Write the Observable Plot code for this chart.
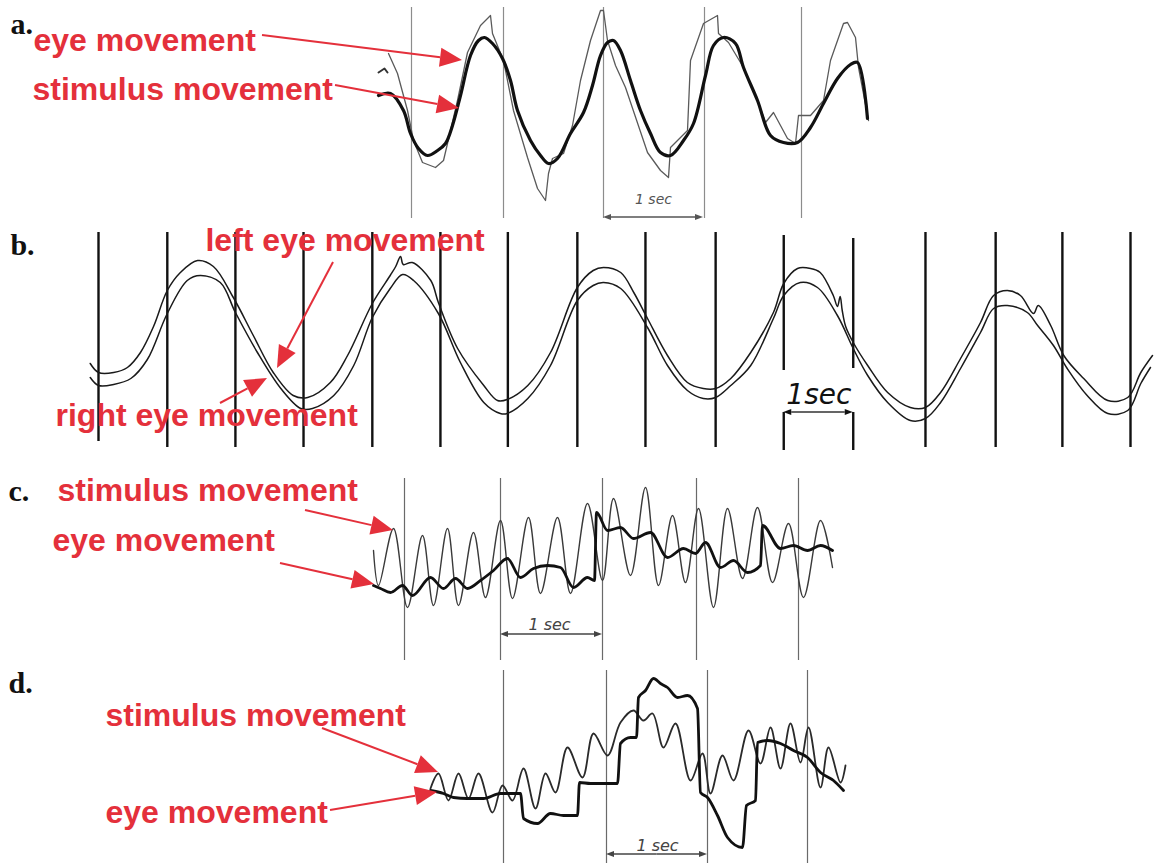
<!DOCTYPE html>
<html><head><meta charset="utf-8">
<script src="https://cdn.jsdelivr.net/npm/d3@7"></script>
<script src="https://cdn.jsdelivr.net/npm/@observablehq/plot@0.6"></script>
<style>
html,body{margin:0;padding:0;background:#fff;}
#chart{position:relative;width:1158px;height:867px;overflow:hidden;background:#fff;}
#chart svg{position:absolute;left:0;}
</style></head><body><div id="chart"></div>
<script>
// ---------- DATA (time in s from first marker, deflection in arbitrary units, up = positive) ----------
// Panel a
const aMarkers = [0.01, 0.93, 1.93, 2.94, 3.91];
const aThick = [[-0.32,20],[-0.20,22],[-0.07,5],[0.00,-18],[0.08,-33],[0.17,-40],[0.27,-35],[0.35,-28],[0.42,-10],[0.50,20],[0.60,60],[0.68,75],[0.74,78],[0.82,72],[0.92,57],[1.00,35],[1.07,5],[1.20,-25],[1.30,-40],[1.38,-48],[1.47,-43],[1.60,-18],[1.73,3],[1.82,30],[1.90,60],[1.97,73],[2.03,75],[2.10,65],[2.20,35],[2.30,5],[2.40,-18],[2.50,-37],[2.60,-40],[2.73,-25],[2.83,-8],[2.95,40],[3.03,70],[3.13,78],[3.25,72],[3.33,48],[3.47,15],[3.60,-20],[3.73,-27],[3.87,-27],[4.00,-12],[4.13,12],[4.27,37],[4.40,51],[4.47,53],[4.57,-3]];
const aThin = [[-0.22,62],[-0.13,42],[-0.03,5],[0.03,-25],[0.12,-47],[0.25,-52],[0.33,-45],[0.37,-28],[0.47,15],[0.57,63],[0.70,90],[0.80,100],[0.82,82],[0.93,55],[1.03,5],[1.17,-42],[1.27,-73],[1.35,-85],[1.38,-58],[1.42,-43],[1.53,-38],[1.62,-10],[1.70,35],[1.80,75],[1.90,105],[1.93,105],[1.97,75],[2.05,50],[2.15,28],[2.37,-37],[2.50,-55],[2.58,-62],[2.60,-32],[2.77,-15],[2.80,55],[2.93,92],[3.07,100],[3.08,82],[3.18,73],[3.33,48],[3.47,15],[3.55,-7],[3.63,3],[3.77,-23],[3.85,-28],[3.88,0],[4.00,0],[4.13,15],[4.20,55],[4.33,92],[4.37,93],[4.45,78],[4.48,48],[4.58,-5]];
const aTick = [[-0.32,43],[-0.26,47],[-0.23,43]];
const aLabels = [{t:-3.77,a:65,text:"eye movement"},{t:-3.78,a:16,text:"stimulus movement"}];
const aArrows = [{t1:-1.48,a1:80,t2:0.52,a2:55},{t1:-0.75,a1:30,t2:0.49,a2:7}];
const aScale = {t1:1.93, t2:2.93, a:-102, label:"1 sec", tl:2.43, al:-88};

// Panel b
const bMarkers = [[0,103,-106],[1.0,103,-112],[1.99,103,-112],[2.98,103,-112],[3.98,103,-112],[4.97,103,-112],[5.95,103,-112],[6.96,103,-112],[7.95,103,-112],[8.97,103,-112],[9.96,100,-35],[10.97,97,-33],[12.02,103,-112],[13.04,103,-112],[14.01,103,-112],[15.0,103,-112]];
const bUpper = [[-0.12,-28],[0.00,-37],[0.22,-37],[0.42,-32],[0.61,-17],[0.80,9],[1.00,45],[1.19,63],[1.44,75],[1.67,69],[1.96,38],[2.25,0],[2.54,-37],[2.83,-60],[3.04,-62],[3.37,-47],[3.62,-20],[3.98,32],[4.24,60],[4.32,69],[4.39,79],[4.43,71],[4.56,73],[4.83,55],[4.94,33],[5.22,-13],[5.60,-50],[5.80,-65],[5.94,-64],[6.24,-50],[6.57,-17],[6.96,48],[7.19,65],[7.34,68],[7.59,63],[7.78,43],[7.98,17],[8.27,-20],[8.56,-47],[8.79,-53],[8.97,-53],[9.19,-43],[9.48,-17],[9.81,23],[9.96,52],[10.16,67],[10.35,67],[10.49,63],[10.68,40],[10.74,29],[10.78,39],[10.81,25],[10.86,9],[10.97,-7],[11.18,-30],[11.47,-57],[11.80,-72],[12.02,-72],[12.24,-57],[12.53,-23],[12.82,13],[13.01,40],[13.21,45],[13.40,40],[13.59,22],[13.66,30],[13.84,10],[14.03,-20],[14.32,-43],[14.67,-65],[14.96,-62],[15.15,-37],[15.32,-20]];
const bLower = [[-0.12,-42],[0.00,-50],[0.22,-49],[0.47,-43],[0.71,-24],[1.00,22],[1.29,55],[1.48,60],[1.77,53],[1.99,23],[2.31,-17],[2.65,-53],[2.94,-73],[3.11,-73],[3.42,-60],[3.71,-30],[3.98,18],[4.24,47],[4.42,61],[4.58,55],[4.94,22],[5.26,-27],[5.60,-67],[5.84,-78],[5.94,-78],[6.24,-63],[6.57,-30],[6.96,35],[7.19,50],[7.34,53],[7.59,47],[7.98,8],[8.27,-30],[8.56,-55],[8.79,-63],[8.97,-62],[9.19,-50],[9.48,-30],[9.81,17],[9.96,40],[10.20,53],[10.45,48],[10.74,20],[10.97,-13],[11.18,-40],[11.47,-67],[11.80,-85],[12.02,-83],[12.24,-67],[12.53,-33],[12.82,3],[13.01,27],[13.21,30],[13.50,23],[13.65,10],[13.88,-10],[14.08,-33],[14.37,-60],[14.67,-78],[14.96,-75],[15.15,-48],[15.29,-32]];
const bLabels = [{t:1.555,a:85,text:"left eye movement"},{t:-0.625,a:-90,text:"right eye movement"}];
const bArrows = [{t1:3.416,a1:73,t2:2.602,a2:-33},{t1:1.773,a1:-68,t2:2.456,a2:-43}];
const bScale = {t1:9.96, t2:10.97, a:-77, low:-115, label:"1sec", tl:10.47, al:-68};

// Panel c
const cMarkers = [0, 0.96, 1.98, 2.92, 3.94];
const cStim = [[-0.31,10],[-0.26,-25],[-0.11,32],[0.03,-47],[0.18,25],[0.29,-45],[0.43,32],[0.54,-45],[0.69,28],[0.81,-37],[0.96,40],[1.08,-38],[1.24,43],[1.36,-33],[1.53,43],[1.66,-33],[1.83,57],[1.98,-20],[2.09,62],[2.26,-15],[2.41,73],[2.54,-25],[2.68,45],[2.81,-22],[2.94,52],[3.09,-47],[3.23,52],[3.38,-18],[3.53,53],[3.68,-22],[3.84,37],[3.99,-37],[4.16,40],[4.28,-7]];
const cEye = [[-0.31,-25],[-0.24,-28],[-0.14,-32],[-0.02,-25],[0.08,-35],[0.26,-17],[0.39,-28],[0.51,-18],[0.63,-28],[0.76,-20],[0.89,-10],[1.03,2],[1.16,-17],[1.29,-8],[1.43,-5],[1.56,-7],[1.69,-27],[1.83,-17],[1.90,-20],[1.92,48],[2.03,30],[2.16,33],[2.29,22],[2.46,28],[2.63,3],[2.79,12],[2.91,7],[3.01,18],[3.16,-7],[3.29,0],[3.43,-12],[3.56,-5],[3.58,35],[3.76,12],[3.89,15],[4.03,10],[4.16,15],[4.28,10]];
const cLabels = [{t:-3.47,a:60,text:"stimulus movement"},{t:-3.52,a:10,text:"eye movement"}];
const cArrows = [{t1:-0.99,a1:50,t2:-0.11,a2:30},{t1:-1.24,a1:-3,t2:-0.30,a2:-24}];
const cScale = {t1:0.96, t2:1.98, a:-74, label:"1 sec", tl:1.45, al:-69};

// Panel d
const dMarkers = [0, 1.03, 2.04, 3.04];
const dStim = [[-0.73,-8],[-0.65,7],[-0.55,-20],[-0.45,7],[-0.35,-18],[-0.25,7],[-0.11,-32],[-0.01,-5],[0.09,-20],[0.20,12],[0.32,-28],[0.42,7],[0.52,-12],[0.64,33],[0.79,3],[0.90,47],[1.04,25],[1.17,58],[1.30,70],[1.40,60],[1.49,67],[1.60,33],[1.72,57],[1.87,0],[1.99,27],[2.07,-13],[2.19,25],[2.30,0],[2.45,50],[2.57,17],[2.67,53],[2.77,12],[2.87,57],[2.97,18],[3.05,53],[3.17,-7],[3.25,33],[3.37,-2],[3.42,15]];
const dEye = [[-0.73,-10],[-0.60,-13],[-0.50,-17],[-0.36,-18],[-0.20,-18],[-0.03,-13],[0.14,-13],[0.17,-13],[0.20,-38],[0.34,-43],[0.47,-33],[0.60,-35],[0.74,-35],[0.76,-2],[0.87,-3],[1.14,-3],[1.17,37],[1.27,43],[1.33,43],[1.35,83],[1.42,90],[1.50,102],[1.57,97],[1.64,93],[1.74,83],[1.84,85],[1.94,72],[1.97,-12],[2.04,-17],[2.14,-35],[2.24,-57],[2.39,-67],[2.43,-25],[2.52,-20],[2.54,38],[2.64,40],[2.77,37],[2.90,30],[3.04,23],[3.17,8],[3.30,0],[3.40,-10]];
const dLabels = [{t:-3.98,a:55,text:"stimulus movement"},{t:-3.98,a:-42,text:"eye movement"}];
const dArrows = [{t1:-1.81,a1:52,t2:-0.65,a2:8},{t1:-1.73,a1:-30,t2:-0.66,a2:-12}];
const dScale = {t1:1.03, t2:2.04, a:-74, label:"1 sec", tl:1.54, al:-70};

const panelLetters = {a:{t:-4.0,a:82}, b:{t:-1.28,a:81}, c:{t:-3.96,a:60}, d:{t:-4.95,a:88}};

// ---------- STYLE ----------
const RED = "#e4303b";
const LABEL_FONT = "'Liberation Sans', Arial, Helvetica, sans-serif";
const W = 1158;
const container = document.getElementById("chart");

// filled-arrowhead annotation mark, positioned via the plot's scales
function redArrows(arrows, {color = RED, head = 22, width = 19, sw = 2} = {}) {
  return (index, scales) => {
    const g = d3.create("svg:g");
    for (const a of arrows) {
      const x1 = scales.x(a.t1), y1 = scales.y(a.a1), x2 = scales.x(a.t2), y2 = scales.y(a.a2);
      const ang = Math.atan2(y2 - y1, x2 - x1);
      const bx = x2 - head * Math.cos(ang), by = y2 - head * Math.sin(ang);
      const px = -Math.sin(ang) * width / 2, py = Math.cos(ang) * width / 2;
      g.append("line").attr("x1", x1).attr("y1", y1).attr("x2", bx).attr("y2", by)
        .attr("stroke", color).attr("stroke-width", sw);
      g.append("path").attr("d", `M${x2},${y2}L${bx + px},${by + py}L${bx - px},${by - py}Z`).attr("fill", color);
    }
    return g.node();
  };
}

function scaleBar(s, {color = "#444", fontSize = 15, font = "'DejaVu Sans', sans-serif", spacing = "1.5px", bracket = false}) {
  const mid = (s.t1 + s.t2) / 2;
  const marks = [
    redArrows([{t1: mid, a1: s.a, t2: s.t1, a2: s.a}, {t1: mid, a1: s.a, t2: s.t2, a2: s.a}], {color, head: 8, width: 6, sw: 1.3}),
    Plot.text([s], {x: "tl", y: "al", text: "label", fill: color, fontSize, fontFamily: font, fontStyle: "italic", lineAnchor: "bottom", textAnchor: "middle", style: {letterSpacing: spacing}})
  ];
  if (bracket) marks.push(Plot.ruleX([s.t1, s.t2], {x: d => d, y1: s.a, y2: s.low, stroke: "#111", strokeWidth: 2.4}));
  return marks;
}

function letter(key) {
  return Plot.text([{...panelLetters[key], text: key + "."}], {x: "t", y: "a", text: "text", textAnchor: "start", lineAnchor: "bottom", fontSize: 30, fontWeight: "bold", fontFamily: "'Liberation Serif', 'Times New Roman', serif", fill: "#111"});
}

function labels(data) {
  return Plot.text(data, {x: "t", y: "a", text: "text", textAnchor: "start", lineAnchor: "bottom", fill: RED, fontSize: 32, fontWeight: "bold", fontFamily: LABEL_FONT});
}

const X = d => d[0], Y = d => d[1];

function panel(top, height, xDomain, yDomain, marks) {
  const svg = Plot.plot({
    width: W, height, margin: 0,
    x: {domain: xDomain, axis: null},
    y: {domain: yDomain, axis: null},
    style: {background: "transparent", overflow: "visible"},
    marks
  });
  svg.style.top = top + "px";
  container.append(svg);
}

// Panel a: 100 px per s, origin at x=410
panel(0, 225, [-4.10, 7.48], [-110, 115], [
  Plot.ruleX(aMarkers, {x: d => d, y1: 108, y2: -103, stroke: "#8c8c8c", strokeWidth: 1.2}),
  Plot.line(aThin, {x: X, y: Y, stroke: "#5a5a5a", strokeWidth: 1.3, curve: "linear"}),
  Plot.line(aTick, {x: X, y: Y, stroke: "#333", strokeWidth: 2, curve: "linear"}),
  Plot.line(aThick, {x: X, y: Y, stroke: "#111", strokeWidth: 3.2, curve: "catmull-rom"}),
  ...scaleBar(aScale, {color: "#555", fontSize: 14}),
  letter("a"),
  labels(aLabels),
  redArrows(aArrows)
]);

// Panel b: 68.8 px per s, origin at x=98
panel(225, 245, [-98 / 68.8, (W - 98) / 68.8], [-135, 110], [
  Plot.ruleX(bMarkers, {x: d => d[0], y1: d => d[1], y2: d => d[2], stroke: "#111", strokeWidth: 2.4}),
  Plot.line(bUpper, {x: X, y: Y, stroke: "#1a1a1a", strokeWidth: 1.5, curve: "catmull-rom"}),
  Plot.line(bLower, {x: X, y: Y, stroke: "#1a1a1a", strokeWidth: 1.5, curve: "catmull-rom"}),
  ...scaleBar(bScale, {color: "#111", fontSize: 28, font: "'DejaVu Sans', sans-serif", spacing: "1px", bracket: true}),
  letter("b"),
  labels(bLabels),
  redArrows(bArrows)
]);

// Panel c: 100 px per s, origin at x=404
panel(470, 195, [-4.04, 7.54], [-105, 90], [
  Plot.ruleX(cMarkers, {x: d => d, y1: 82, y2: -100, stroke: "#6a6a6a", strokeWidth: 1.2}),
  Plot.line(cStim, {x: X, y: Y, stroke: "#3a3a3a", strokeWidth: 1.4, curve: "catmull-rom"}),
  Plot.line(cEye, {x: X, y: Y, stroke: "#111", strokeWidth: 2.8, curve: "monotone-x"}),
  ...scaleBar(cScale, {color: "#444", fontSize: 16}),
  letter("c"),
  labels(cLabels),
  redArrows(cArrows)
]);

// Panel d: 100 px per s, origin at x=503
panel(665, 202, [-5.03, 6.55], [-87, 115], [
  Plot.ruleX(dMarkers, {x: d => d, y1: 110, y2: -83, stroke: "#6a6a6a", strokeWidth: 1.2}),
  Plot.line(dStim, {x: X, y: Y, stroke: "#2a2a2a", strokeWidth: 1.8, curve: "catmull-rom"}),
  Plot.line(dEye, {x: X, y: Y, stroke: "#111", strokeWidth: 2.8, curve: "monotone-x"}),
  ...scaleBar(dScale, {color: "#444", fontSize: 16}),
  letter("d"),
  labels(dLabels),
  redArrows(dArrows)
]);
</script></body></html>
